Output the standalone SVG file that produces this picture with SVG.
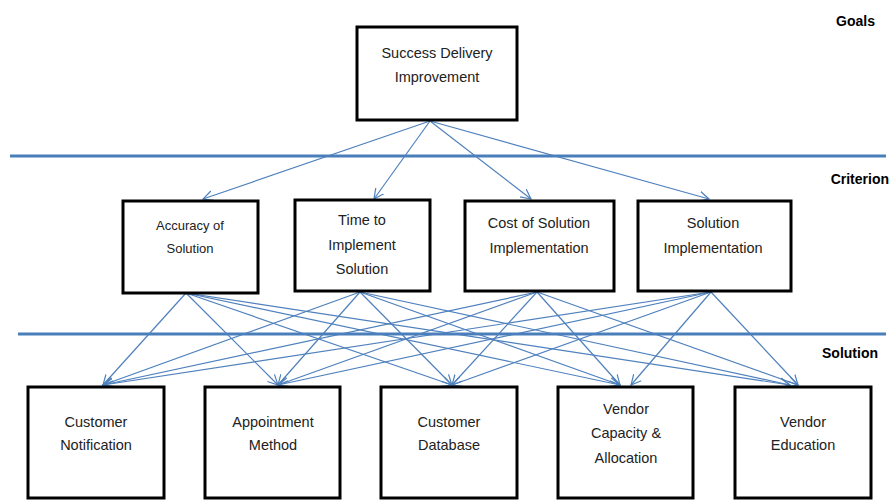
<svg xmlns="http://www.w3.org/2000/svg" width="890" height="501" viewBox="0 0 890 501">
<style>
.box{fill:#fff;stroke:#000;stroke-width:3}
.t{font-family:"Liberation Sans",Arial,sans-serif;font-size:14.5px;fill:#222;text-anchor:middle}
.s{font-size:13px}
.lbl{font-family:"Liberation Sans",Arial,sans-serif;font-size:14px;font-weight:bold;fill:#000;text-anchor:end}
.sep{stroke:#4a7ebb;stroke-width:3}
.c{stroke:#4f81bd;stroke-width:1.2;fill:none;marker-end:url(#ah)}
</style>
<defs>
<marker id="ah" markerUnits="userSpaceOnUse" markerWidth="12" markerHeight="12" refX="10" refY="5" orient="auto" viewBox="0 0 12 10">
<path d="M0,0 L10,5 L0,10" fill="none" stroke="#4f81bd" stroke-width="1.2"/>
</marker>
</defs>
<rect width="890" height="501" fill="#fff"/>
<g id="separators">
<line class="sep" x1="10" y1="156" x2="886" y2="156"/>
<line class="sep" x1="18" y1="334" x2="886" y2="334"/>
</g>
<g id="level-labels">
<text class="lbl" x="875" y="26">Goals</text>
<text class="lbl" x="889" y="184">Criterion</text>
<text class="lbl" x="878" y="358">Solution</text>
</g>
<g id="connectors">
<line class="c" x1="430" y1="121" x2="203" y2="199"/>
<line class="c" x1="430" y1="121" x2="374" y2="199"/>
<line class="c" x1="430" y1="121" x2="531" y2="199"/>
<line class="c" x1="430" y1="121" x2="709" y2="199"/>
<line class="c" x1="186" y1="293" x2="103" y2="385"/>
<line class="c" x1="186" y1="293" x2="278" y2="385"/>
<line class="c" x1="186" y1="293" x2="452" y2="385"/>
<line class="c" x1="186" y1="293" x2="620" y2="385"/>
<line class="c" x1="186" y1="293" x2="790" y2="385"/>
<line class="c" x1="360" y1="292" x2="103" y2="385"/>
<line class="c" x1="360" y1="292" x2="278" y2="385"/>
<line class="c" x1="360" y1="292" x2="452" y2="385"/>
<line class="c" x1="360" y1="292" x2="620" y2="385"/>
<line class="c" x1="360" y1="292" x2="790" y2="385"/>
<line class="c" x1="537" y1="292" x2="103" y2="385"/>
<line class="c" x1="537" y1="292" x2="278" y2="385"/>
<line class="c" x1="537" y1="292" x2="452" y2="385"/>
<line class="c" x1="537" y1="292" x2="620" y2="385"/>
<line class="c" x1="537" y1="292" x2="798" y2="385"/>
<line class="c" x1="711" y1="292" x2="103" y2="385"/>
<line class="c" x1="711" y1="292" x2="278" y2="385"/>
<line class="c" x1="711" y1="292" x2="452" y2="385"/>
<line class="c" x1="711" y1="292" x2="631" y2="385"/>
<line class="c" x1="711" y1="292" x2="798" y2="385"/>
</g>
<g id="goal">
<rect class="box" x="357" y="27" width="160" height="93"/>
<text class="t" x="437" y="58">Success Delivery</text>
<text class="t" x="437" y="82">Improvement</text>
</g>
<g id="crit-accuracy">
<rect class="box" x="123" y="201" width="135" height="92"/>
<text class="t s" x="190" y="230">Accuracy of</text>
<text class="t s" x="190" y="253">Solution</text>
</g>
<g id="crit-time">
<rect class="box" x="295" y="200" width="135" height="91"/>
<text class="t" x="362" y="225">Time to</text>
<text class="t" x="362" y="250">Implement</text>
<text class="t" x="362" y="274">Solution</text>
</g>
<g id="crit-cost">
<rect class="box" x="465" y="201" width="149" height="90"/>
<text class="t" x="539" y="228">Cost of Solution</text>
<text class="t" x="539" y="253">Implementation</text>
</g>
<g id="crit-impl">
<rect class="box" x="638" y="201" width="153" height="90"/>
<text class="t" x="713" y="228">Solution</text>
<text class="t" x="713" y="253">Implementation</text>
</g>
<g id="sol-notification">
<rect class="box" x="28" y="387" width="136" height="111"/>
<text class="t" x="96" y="427">Customer</text>
<text class="t" x="96" y="450">Notification</text>
</g>
<g id="sol-appointment">
<rect class="box" x="205" y="387" width="135" height="111"/>
<text class="t" x="273" y="427">Appointment</text>
<text class="t" x="273" y="450">Method</text>
</g>
<g id="sol-database">
<rect class="box" x="381" y="387" width="136" height="111"/>
<text class="t" x="449" y="427">Customer</text>
<text class="t" x="449" y="450">Database</text>
</g>
<g id="sol-vendor-capacity">
<rect class="box" x="558" y="387" width="135" height="111"/>
<text class="t" x="626" y="414">Vendor</text>
<text class="t" x="626" y="438">Capacity &amp;</text>
<text class="t" x="626" y="463">Allocation</text>
</g>
<g id="sol-vendor-education">
<rect class="box" x="735" y="387" width="136" height="111"/>
<text class="t" x="803" y="427">Vendor</text>
<text class="t" x="803" y="450">Education</text>
</g>
</svg>
